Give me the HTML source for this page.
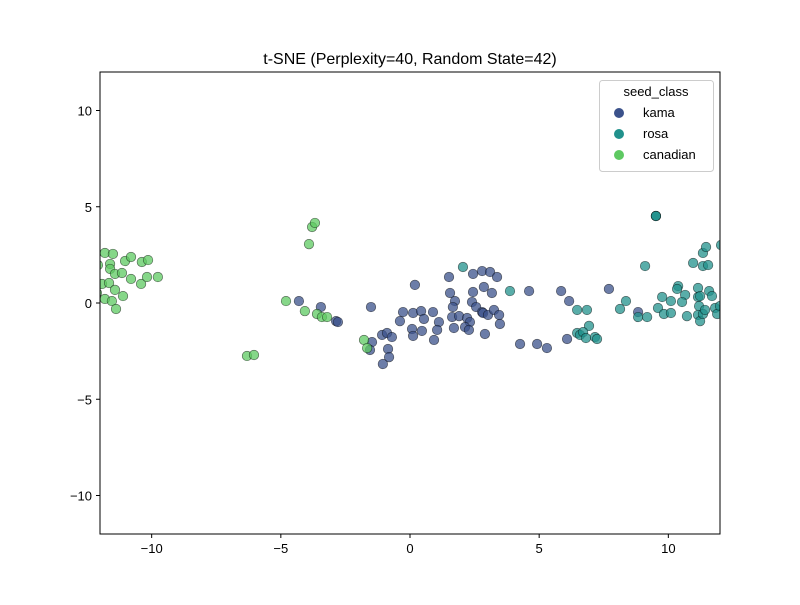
<!DOCTYPE html>
<html><head><meta charset="utf-8"><style>
body{margin:0;background:#fff;}
svg text{font-family:"Liberation Sans","DejaVu Sans",sans-serif;}
</style></head><body>
<svg id="chart" width="800" height="600" xmlns="http://www.w3.org/2000/svg">
<defs><clipPath id="clip"><rect x="100" y="72" width="620" height="462"/></clipPath></defs>
<rect x="0" y="0" width="800" height="600" fill="#fff"/>
<text x="410" y="64" text-anchor="middle" font-size="16">t-SNE (Perplexity=40, Random State=42)</text>
<g id="points" clip-path="url(#clip)"></g>
<rect x="100" y="72" width="620" height="462" fill="none" stroke="#000" stroke-width="1"/>
<g id="xticks"></g>
<g id="yticks"></g>
<g>
<rect x="599.5" y="80.5" width="114" height="91" rx="3" fill="#fff" fill-opacity="0.8" stroke="#ccc"/>
<text x="656" y="96" text-anchor="middle" font-size="13">seed_class</text>
<circle cx="619" cy="113" r="5" fill="#3b528b"/>
<text x="643" y="117" font-size="13">kama</text>
<circle cx="619" cy="134" r="5" fill="#21918c"/>
<text x="643" y="138" font-size="13">rosa</text>
<circle cx="619" cy="155" r="5" fill="#5ec962"/>
<text x="643" y="159" font-size="13">canadian</text>
</g>
</svg>
<script>
const xTicks=[-10,-5,0,5,10];
const yTicks=[-10,-5,0,5,10];
const kamaX=[-4.30,-3.45,-2.86,-2.79,-1.51,0.19,1.51,2.44,2.79,3.10,3.37,1.55,2.44,2.86,3.17,4.61,1.74,1.66,2.40,2.56,2.79,2.83,3.02,3.25,3.45,3.48,2.90,-0.27,-0.39,0.12,0.43,0.54,0.89,1.12,0.08,0.46,0.12,1.05,0.93,1.63,1.90,2.21,2.32,1.70,2.13,2.28,-1.08,-0.89,-0.70,-1.47,-1.55,-0.85,-0.81,-1.05,4.26,4.92,5.30,5.85,6.16,7.70,8.83,6.08];
const kamaY=[0.10,-0.21,-0.94,-0.99,-0.21,0.94,1.35,1.51,1.66,1.61,1.35,0.52,0.57,0.83,0.52,0.62,0.10,-0.21,0.05,-0.21,-0.47,-0.52,-0.62,-0.36,-0.62,-1.09,-1.61,-0.47,-0.94,-0.52,-0.42,-0.83,-0.47,-0.99,-1.35,-1.45,-1.71,-1.40,-1.92,-0.73,-0.68,-0.78,-0.99,-1.30,-1.25,-1.40,-1.66,-1.56,-1.77,-2.03,-2.44,-2.39,-2.81,-3.17,-2.13,-2.13,-2.34,0.62,0.10,0.73,-0.47,-1.87];
const rosaX=[2.05,3.87,9.52,9.52,9.52,9.10,6.47,6.85,6.93,6.47,6.58,6.70,6.81,7.16,7.24,8.13,8.36,8.83,9.18,9.60,9.76,10.10,9.83,10.10,10.38,10.34,10.65,10.53,10.72,10.96,11.15,11.15,11.23,11.19,11.15,11.23,11.34,11.42,11.58,11.69,11.81,11.89,11.34,11.54,11.34,11.46,12.04,12.0];
const rosaY=[1.87,0.62,4.52,4.52,4.52,1.92,-0.36,-0.36,-1.19,-1.56,-1.66,-1.51,-1.82,-1.77,-1.87,-0.31,0.10,-0.73,-0.73,-0.26,0.31,0.10,-0.57,-0.52,0.88,0.73,0.42,0.05,-0.68,2.08,0.78,0.31,0.36,-0.16,-0.62,-0.94,-0.57,-0.36,0.62,0.36,-0.26,-0.57,1.92,1.97,2.60,2.91,3.01,-0.16];
const canX=[-11.81,-11.50,-12.08,-11.61,-11.61,-11.42,-11.15,-11.03,-10.80,-10.38,-10.14,-10.80,-10.41,-10.18,-9.76,-11.92,-11.65,-11.42,-11.11,-11.81,-11.54,-11.38,-12.12,-4.80,-4.07,-3.60,-3.41,-3.21,-3.91,-3.79,-3.68,-6.31,-6.04,-1.78,-1.66];
const canY=[2.60,2.55,1.97,2.03,1.77,1.51,1.56,2.18,2.39,2.13,2.23,1.25,0.99,1.35,1.35,0.99,1.04,0.68,0.36,0.21,0.10,-0.31,0.52,0.10,-0.42,-0.57,-0.73,-0.73,3.06,3.95,4.16,-2.75,-2.70,-1.92,-2.34];
const xMin=-12,xMax=12,yMin=-12,yMax=12;
const L=100,R=720,T=72,B=534;
function sx(v){return L+(v-xMin)/(xMax-xMin)*(R-L);}
function sy(v){return B-(v-yMin)/(yMax-yMin)*(B-T);}
const NS="http://www.w3.org/2000/svg";
const gp=document.getElementById('points');
function draw(xs,ys,color,name){
  for(let i=0;i<xs.length;i++){
    const c=document.createElementNS(NS,'circle');
    c.setAttribute('cx',sx(xs[i]));c.setAttribute('cy',sy(ys[i]));
    c.setAttribute('r',4.8);c.setAttribute('fill',color);c.setAttribute('fill-opacity',0.75);
    c.setAttribute('stroke','#000');c.setAttribute('stroke-opacity',0.6);c.setAttribute('stroke-width',0.6);
    
    
    gp.appendChild(c);
  }
}
draw(kamaX,kamaY,'#3b528b','point-kama');
draw(rosaX,rosaY,'#21918c','point-rosa');
draw(canX,canY,'#5ec962','point-canadian');
const gx=document.getElementById('xticks');
xTicks.forEach(t=>{
  const x=sx(t);
  const l=document.createElementNS(NS,'line');
  l.setAttribute('x1',x);l.setAttribute('x2',x);l.setAttribute('y1',B);l.setAttribute('y2',B+4);l.setAttribute('stroke','#000');
  
  
  gx.appendChild(l);
  const tx=document.createElementNS(NS,'text');
  tx.setAttribute('x',x);tx.setAttribute('y',B+19);tx.setAttribute('text-anchor','middle');tx.setAttribute('font-size','13');
  tx.textContent=t<0?'\u2212'+Math.abs(t):String(t);
  
  
  gx.appendChild(tx);
});
const gy=document.getElementById('yticks');
yTicks.forEach(t=>{
  const y=sy(t);
  const l=document.createElementNS(NS,'line');
  l.setAttribute('x1',L-4);l.setAttribute('x2',L);l.setAttribute('y1',y);l.setAttribute('y2',y);l.setAttribute('stroke','#000');
  
  
  gy.appendChild(l);
  const tx=document.createElementNS(NS,'text');
  tx.setAttribute('x',L-8);tx.setAttribute('y',y+5);tx.setAttribute('text-anchor','end');tx.setAttribute('font-size','13');
  tx.textContent=t<0?'\u2212'+Math.abs(t):String(t);
  
  
  gy.appendChild(tx);
});
</script>
</body></html>
